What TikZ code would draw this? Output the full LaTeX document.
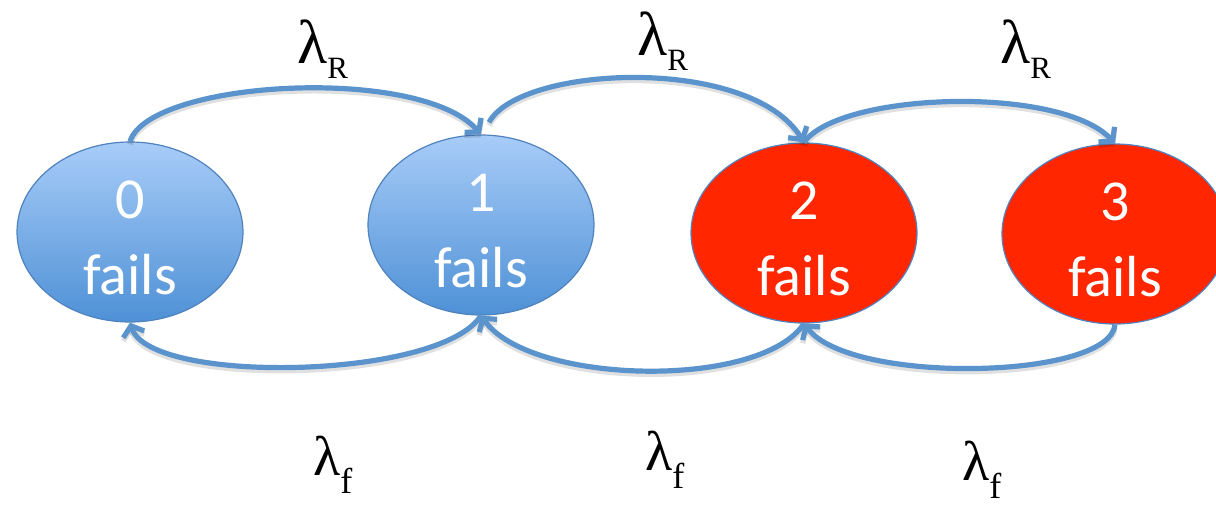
\documentclass[tikz,border=0pt]{standalone}
\usepackage{fontspec}
\setmainfont{Carlito}
\newfontfamily\ratefont{Liberation Serif}
\usetikzlibrary{arrows.meta,shapes.geometric}
\definecolor{lineblue}{RGB}{91,148,205}
\definecolor{edgeblue}{RGB}{80,130,190}
\definecolor{topblue}{RGB}{168,204,248}
\definecolor{botblue}{RGB}{78,145,214}
\definecolor{stred}{RGB}{255,38,0}
\begin{document}
\begin{tikzpicture}[x=1pt,y=-1pt,
 state/.style={ellipse, draw=edgeblue, line width=1.2pt, minimum width=226pt, minimum height=180pt, inner sep=0pt},
 okstate/.style={state, top color=topblue, bottom color=botblue},
 badstate/.style={state, fill=stred},
 stxt/.style={text=white, font=\fontsize{58}{76}\selectfont, align=center, inner sep=0pt, yshift=-6pt},
 trans/.style={draw=lineblue, line width=5.2pt, -{Straight Barb[length=9pt,width=22pt]},
   preaction={draw=black, opacity=0.12, line width=5.5pt, transform canvas={yshift=-3pt}}},
 rate/.style={anchor=base west, inner sep=0pt, font=\ratefont}
]
\useasboundingbox (0,0) rectangle (1216,504);
\clip (0,0) rectangle (1216,504);

\node[okstate]  (s0) at (130,232) {};
\node[okstate]  (s1) at (481,225) {};
\node[badstate] (s2) at (804,233) {};
\node[badstate] (s3) at (1115,234) {};

\node[stxt] (t0) at (s0.center) {0\\fails};
\node[stxt] (t1) at (s1.center) {1\\fails};
\node[stxt] (t2) at (s2.center) {2\\fails};
\node[stxt] (t3) at (s3.center) {3\\fails};

% repair transitions (top)
\draw[trans] (s0.north) .. controls (150,80) and (420,65) .. (s1.north);
\draw[trans] ([shift={(8,-12)}]s1.north) .. controls (520,65) and (750,55) .. (s2.north);
\draw[trans] (s2.north) .. controls (840,92) and (1060,85) .. (s3.north);

% failure transitions (bottom)
\draw[trans] (s1.south) .. controls (440,380) and (150,385) .. (s0.south);
\draw[trans] (s2.south) .. controls (760,390) and (530,385) .. (s1.south);
\draw[trans] (s3.south) .. controls (1110,380) and (850,385) .. (s2.south);

% rate labels
\node[rate] (lr1) at (297,63) {\fontsize{62}{62}\selectfont λ\raisebox{-15pt}{\fontsize{31}{31}\selectfont R}};
\node[rate] (lr2) at (637,55) {\fontsize{62}{62}\selectfont λ\raisebox{-15pt}{\fontsize{31}{31}\selectfont R}};
\node[rate] (lr3) at (1000,63) {\fontsize{62}{62}\selectfont λ\raisebox{-15pt}{\fontsize{31}{31}\selectfont R}};
\node[rate] (lf1) at (313,475) {\fontsize{56}{56}\selectfont λ\raisebox{-18pt}{\fontsize{36}{36}\selectfont f}};
\node[rate] (lf2) at (645,470) {\fontsize{56}{56}\selectfont λ\raisebox{-18pt}{\fontsize{36}{36}\selectfont f}};
\node[rate] (lf3) at (962,480) {\fontsize{56}{56}\selectfont λ\raisebox{-18pt}{\fontsize{36}{36}\selectfont f}};
\end{tikzpicture}
\end{document}
